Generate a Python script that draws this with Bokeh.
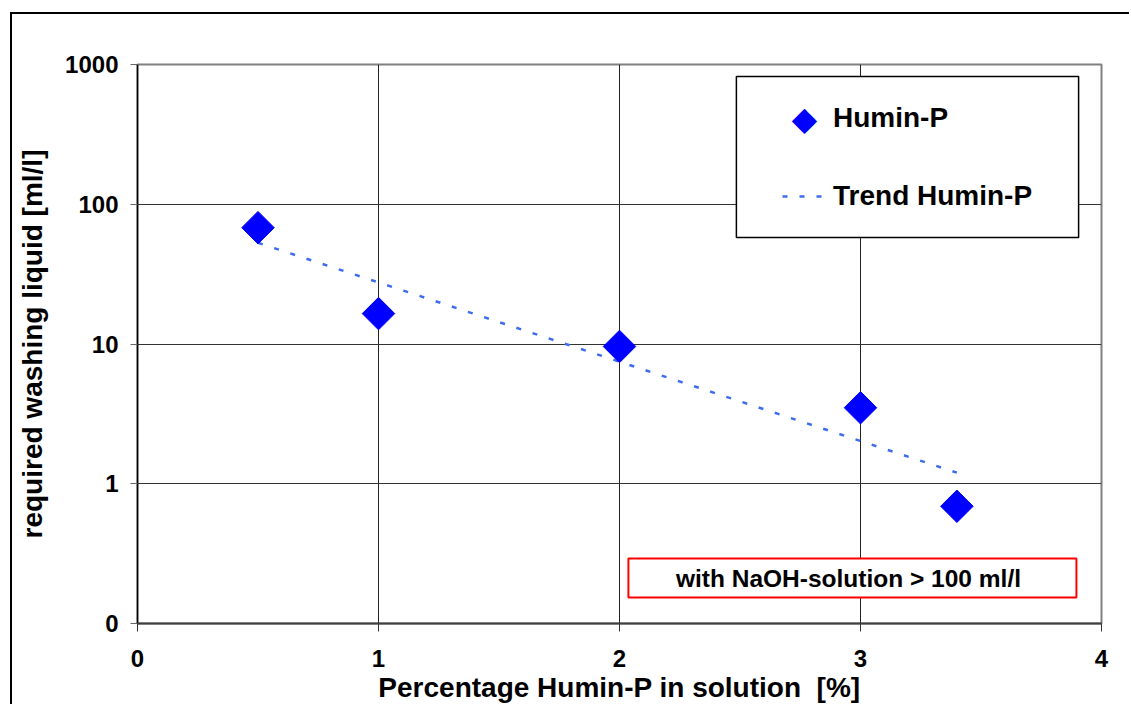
import math
from bokeh.plotting import figure
from bokeh.models import FixedTicker, BoxAnnotation, Label, Legend, LegendItem
from bokeh.embed import file_html
from bokeh.resources import INLINE

# ---- data ----
humin_x = [0.5, 1.0, 2.0, 3.0, 3.4]
humin_y = [68.0, 16.5, 9.6, 3.5, 0.69]

trend_x = [0.5, 3.4]
trend_y = [53.0, 1.2]

x_ticks = [0, 1, 2, 3, 4]
x_tick_labels = ["0", "1", "2", "3", "4"]
y_ticks = [0.1, 1, 10, 100, 1000]
y_tick_labels = ["0", "1", "10", "100", "1000"]

FONT = "Liberation Sans"

p = figure(
    width=1119, height=692,
    x_range=(0, 4), y_range=(0.1, 1000), y_axis_type="log",
    output_backend="svg", toolbar_location=None,
    min_border_left=125, min_border_right=30, min_border_top=50, min_border_bottom=83,
    background_fill_color="white", border_fill_color="white",
    styles={"border-left": "2px solid black", "border-top": "2px solid black",
            "margin-left": "10px", "margin-top": "12px"},
)

p.outline_line_color = "#808080"
p.outline_line_width = 2

# axes
p.xaxis.ticker = FixedTicker(ticks=x_ticks)
p.yaxis.ticker = FixedTicker(ticks=y_ticks)
p.xaxis.major_label_overrides = {t: l for t, l in zip(x_ticks, x_tick_labels)}
p.yaxis.major_label_overrides = {t: l for t, l in zip(y_ticks, y_tick_labels)}
for ax in (p.xaxis[0], p.yaxis[0]):
    ax.major_label_text_font = FONT
    ax.major_label_text_font_style = "bold"
    ax.major_label_text_font_size = "24px"
    ax.major_label_text_color = "black"
    ax.axis_label_text_font = FONT
    ax.axis_label_text_font_style = "bold"
    ax.axis_label_text_font_size = "28px"
    ax.axis_label_text_color = "black"
    ax.minor_tick_line_color = None
    ax.major_tick_in = 0

p.xaxis.axis_label = "Percentage Humin-P in solution\u00a0 [%]"
p.yaxis.axis_label = "required washing liquid [ml/l]"
p.xaxis.major_tick_out = 8
p.yaxis.major_tick_out = 7
p.xaxis.major_label_standoff = 18
p.yaxis.major_label_standoff = 12
p.xaxis.axis_label_standoff = 2
p.yaxis.axis_label_standoff = 14
p.xaxis.axis_line_color = "#404040"
p.xaxis.axis_line_width = 2
p.yaxis.axis_line_color = "black"
p.yaxis.axis_line_width = 1.5
p.xaxis.major_tick_line_color = "#333333"
p.yaxis.major_tick_line_color = "#666666"

# grid
p.xgrid.ticker = FixedTicker(ticks=x_ticks)
p.ygrid.ticker = FixedTicker(ticks=y_ticks)
p.xgrid.grid_line_color = "#222222"
p.ygrid.grid_line_color = "#333333"
p.xgrid.grid_line_width = 1
p.ygrid.grid_line_width = 1

# glyphs
ln = p.line(trend_x, trend_y, line_color="#3d6cf2", line_width=2.5, line_dash="5 12")
sc = p.scatter(humin_x, humin_y, marker="square", size=23, angle=math.pi / 4,
               fill_color="#0000ff", line_color="#0000ff")
# invisible stand-in so the legend row keeps its slot; the diamond key is drawn as text
key_stub = p.scatter([], [], marker="square", fill_alpha=0, line_alpha=0)

# legend frame
legend_box = BoxAnnotation(left=2.485, right=3.905, bottom=57.8, top=821,
                           fill_color="white", fill_alpha=1.0,
                           line_color="black", line_width=1.5, line_alpha=1.0)
p.add_layout(legend_box)

legend = Legend(
    items=[LegendItem(label="Humin-P", renderers=[key_stub]),
           LegendItem(label="Trend Humin-P", renderers=[ln])],
    location=(645, 407), padding=0, margin=0,
    border_line_color=None, background_fill_alpha=0,
    glyph_width=43, glyph_height=40, label_height=40, spacing=38, label_standoff=8,
    label_text_font=FONT, label_text_font_style="bold", label_text_font_size="28px",
    label_text_color="black",
)
p.add_layout(legend)

legend_key = Label(x=667, y=505, x_units="screen", y_units="screen", text="\u25c6",
                   text_align="center", text_baseline="middle",
                   text_font="DejaVu Sans", text_font_size="33px", text_color="#0000ff")
p.add_layout(legend_key)

# annotation box
note_box = BoxAnnotation(left=2.037, right=3.896, bottom=0.1535, top=0.2917,
                         fill_color="white", fill_alpha=1.0,
                         line_color="red", line_width=2, line_alpha=1.0)
p.add_layout(note_box)
note = Label(x=2.95, y=0.2116, text="with NaOH-solution > 100 ml/l",
             text_align="center", text_baseline="middle",
             text_font=FONT, text_font_style="bold", text_font_size="24.5px",
             text_color="black")
p.add_layout(note)

open("out.html", "w").write(file_html(p, INLINE))
